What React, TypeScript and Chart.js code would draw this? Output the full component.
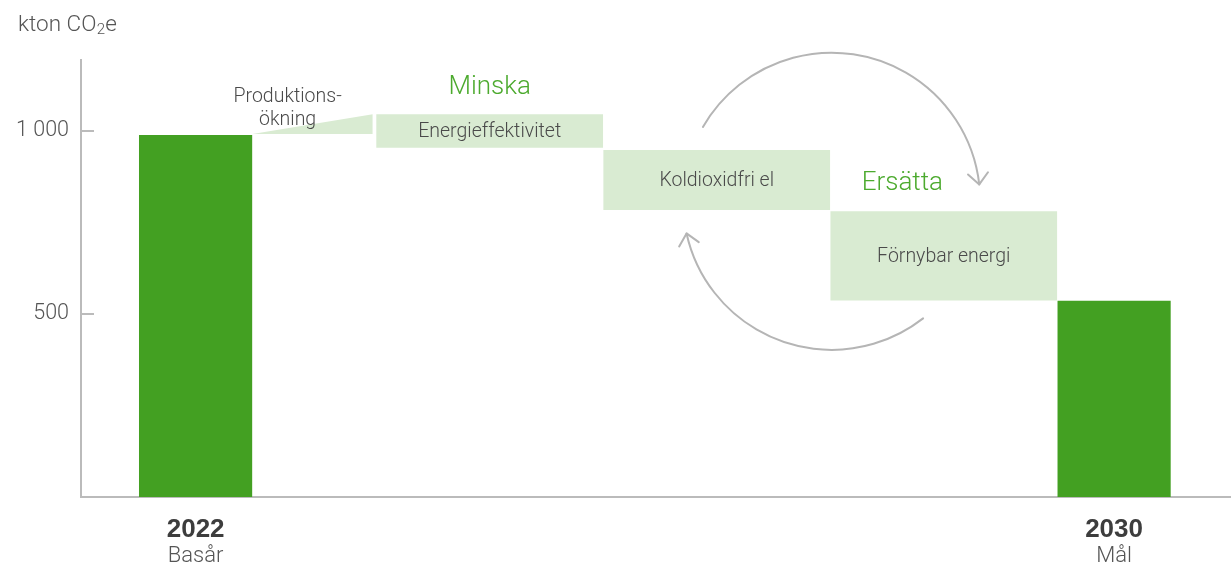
import React, { useEffect, useRef } from 'react';
import { Chart, registerables } from 'chart.js';

Chart.register(...registerables);

// ---- data ----
const categories = ['2022', 'Produktionsökning', 'Energieffektivitet', 'Koldioxidfri el', 'Förnybar energi', '2030'];
const axisTitles = ['2022', '', '', '', '', '2030'];
const axisSubtitles = ['Basår', '', '', '', '', 'Mål'];
const stepWidths = [1, 1.09, 2, 2, 2, 1];
const stepTop = [989, 1046, 1046, 948, 781, 536];
const stepBottom = [0, 992, 954, 784, 537, 0];
const yTicks = [500, 1000];
const wedgeLabelLines = ['Produktions-', 'ökning'];
const groupLabels = ['Minska', 'Ersätta'];
const unitLabel = ['kton CO', '2', 'e'];

const DARK = '#43a022';
const LIGHT = '#d9ebd2';
const AXIS = '#bbbbbb';
const TEXT = '#4a4a4a';
const GREEN_TEXT = '#4caa2e';
const LIGHT_FONT = 'Roboto';

const starts: number[] = [];
stepWidths.reduce((acc, w) => { starts.push(acc); return acc + w; }, 0);
const total = stepWidths.reduce((a, b) => a + b, 0);

const fmt = (v: number) => String(v).replace(/\B(?=(\d{3})+(?!\d))/g, ' ');

const annotations = {
  id: 'annotations',
  afterDatasetsDraw(chart: any) {
    const { ctx, scales } = chart;
    const x = scales.x, y = scales.y;
    const center = (i: number) => x.getPixelForValue(starts[i] + stepWidths[i] / 2);
    ctx.save();

    // box labels
    ctx.fillStyle = TEXT;
    ctx.textAlign = 'center';
    ctx.textBaseline = 'middle';
    ctx.font = `300 19.5px ${LIGHT_FONT}`;
    [2, 3, 4].forEach((i) => {
      ctx.fillText(categories[i], center(i), y.getPixelForValue((stepTop[i] + stepBottom[i]) / 2) + 1.5);
    });

    // wedge label
    const wx = x.getPixelForValue(starts[1] + 0.31);
    ctx.fillText(wedgeLabelLines[0], wx, y.getPixelForValue(1093));
    ctx.fillText(wedgeLabelLines[1], wx, y.getPixelForValue(1031));

    // group labels
    ctx.fillStyle = GREEN_TEXT;
    ctx.font = `300 26px ${LIGHT_FONT}`;
    ctx.fillText(groupLabels[0], center(2), y.getPixelForValue(1118));
    ctx.fillText(groupLabels[1], x.getPixelForValue(starts[4] + 0.635), y.getPixelForValue(856));

    // axis labels under bars
    ctx.textBaseline = 'alphabetic';
    [0, 5].forEach((i) => {
      ctx.fillStyle = '#3d3d3d';
      ctx.font = 'bold 26px "Liberation Sans"';
      ctx.fillText(axisTitles[i], center(i), 537);
      ctx.fillStyle = '#555555';
      ctx.font = `300 22px ${LIGHT_FONT}`;
      ctx.fillText(axisSubtitles[i], center(i), 562);
    });

    // unit label
    ctx.textAlign = 'left';
    ctx.fillStyle = '#555555';
    ctx.font = `300 22.5px ${LIGHT_FONT}`;
    let ux = 18;
    ctx.fillText(unitLabel[0], ux, 31);
    ux += ctx.measureText(unitLabel[0]).width;
    ctx.font = `300 15px ${LIGHT_FONT}`;
    ctx.fillText(unitLabel[1], ux + 0.5, 34);
    ux += ctx.measureText(unitLabel[1]).width + 0.5;
    ctx.font = `300 22.5px ${LIGHT_FONT}`;
    ctx.fillText(unitLabel[2], ux, 31);

    // circular arrows
    const cx = x.getPixelForValue(starts[4] + 0.012);
    const cy = y.getPixelForValue(808);
    const r = y.getPixelForValue(0) - y.getPixelForValue(406);
    ctx.strokeStyle = '#b5b5b5';
    ctx.lineWidth = 2;
    ctx.lineCap = 'round';
    const deg = Math.PI / 180;
    const arrow = (a0: number, a1: number) => {
      ctx.beginPath();
      ctx.arc(cx, cy, r, a0 * deg, a1 * deg, false);
      ctx.stroke();
      const tx = cx + r * Math.cos(a1 * deg);
      const ty = cy + r * Math.sin(a1 * deg);
      const back = a1 * deg + Math.PI / 2 + Math.PI;
      ctx.beginPath();
      for (const s of [-1, 1]) {
        const a = back + s * 42 * deg;
        ctx.moveTo(tx, ty);
        ctx.lineTo(tx + 15 * Math.cos(a), ty + 15 * Math.sin(a));
      }
      ctx.stroke();
    };
    arrow(-150, -6.5);
    arrow(52, 167.5);

    ctx.restore();
  },
};

export default function App() {
  const ref = useRef<HTMLCanvasElement | null>(null);
  useEffect(() => {
    if (!ref.current) return;
    const datasets = categories.map((c, i) => {
      const isTotal = i === 0 || i === categories.length - 1;
      const isWedge = i === 1;
      const x0 = starts[i];
      const x1 = starts[i] + stepWidths[i] - (isWedge ? 0.03 : 0);
      return {
        label: c,
        data: [
          { x: x0, y: isWedge ? stepBottom[i] : stepTop[i] },
          { x: x1, y: stepTop[i] },
        ],
        fill: isTotal ? 'origin' : { value: stepBottom[i] },
        backgroundColor: isTotal ? DARK : LIGHT,
        borderColor: 'rgba(0,0,0,0)',
        borderWidth: 0,
        pointRadius: 0,
        pointHoverRadius: 0,
        tension: 0,
      };
    });
    const chart = new Chart(ref.current, {
      type: 'line',
      data: { datasets } as any,
      options: {
        animation: false,
        responsive: false,
        events: [],
        layout: { padding: { top: 60, left: 0, right: 0, bottom: 0 } },
        plugins: { legend: { display: false }, tooltip: { enabled: false } },
        scales: {
          x: {
            type: 'linear',
            min: -0.51,
            max: total + 0.53,
            ticks: { display: false },
            grid: { display: false },
            border: { display: true, color: AXIS, width: 2 },
            afterFit: (s: any) => { s.height = 68; },
          },
          y: {
            type: 'linear',
            min: 0,
            max: 1194,
            afterBuildTicks: (s: any) => { s.ticks = yTicks.map((v) => ({ value: v })); },
            ticks: {
              padding: 25,
              color: '#555555',
              font: { family: LIGHT_FONT, size: 21.5, weight: '300' },
              callback: (v: any) => fmt(Number(v)),
            },
            grid: { display: true, drawOnChartArea: false, drawTicks: true, tickLength: -13, color: AXIS, lineWidth: 2 },
            border: { display: true, color: AXIS, width: 2 },
            afterFit: (s: any) => { s.width = 81; },
          },
        },
      } as any,
      plugins: [annotations],
    });
    return () => chart.destroy();
  }, []);
  return (
    <div style={{ position: 'absolute', left: 0, top: 0, width: 1231, height: 565, background: '#fff' }}>
      <canvas ref={ref} width={1231} height={565} style={{ display: 'block' }} />
    </div>
  );
}
